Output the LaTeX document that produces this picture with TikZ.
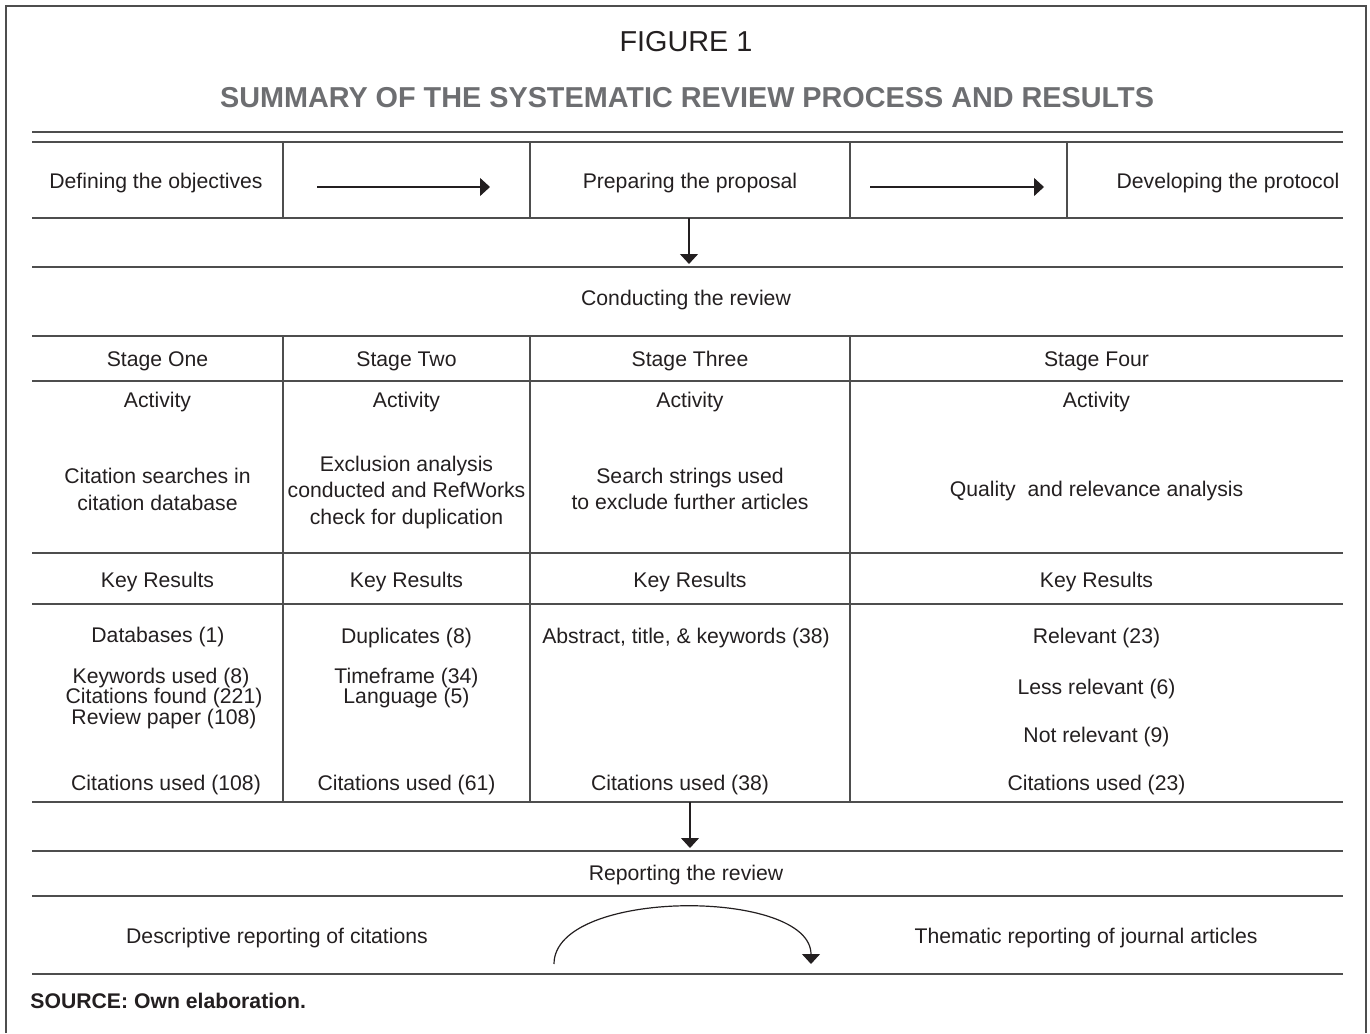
\documentclass[tikz,border=0pt]{standalone}
\usepackage{fontspec}
\setmainfont{Liberation Sans}
\usetikzlibrary{arrows.meta}
\definecolor{titlegray}{RGB}{109,110,113}
\definecolor{rulegray}{RGB}{78,78,78}
\definecolor{inkgray}{RGB}{35,31,32}

\begin{document}
\begin{tikzpicture}[x=0.5pt,y=-0.5pt,
  txt/.style={font=\fontsize{10.6pt}{12pt}\selectfont, text=inkgray, inner sep=0pt, anchor=base},
  head/.style={font=\fontsize{14.4pt}{17pt}\selectfont, inner sep=0pt, anchor=base},
  rule/.style={rulegray, line width=0.7pt},
  flow/.style={inkgray, line width=0.6pt, -{Triangle[width=9pt,length=5pt]}}]
\useasboundingbox (0,0) rectangle (1370,1033);

% frame and rules
\draw[rulegray, line width=0.8pt] (6,1033) -- (6,6) -- (1366,6) -- (1366,1033);
\foreach \y in {132,142,218,267,336,381,553,604,802,851,896,974}
  \draw[rule] (32,\y) -- (1343,\y);
\foreach \x in {283,530,850,1067}
  \draw[rule] (\x,142) -- (\x,218);
\foreach \x in {283,530,850}
  \draw[rule] (\x,336) -- (\x,802);

% headings
\node[head, text=inkgray] (fig) at (686,51) {FIGURE 1};
\node[head, text=titlegray, font=\fontsize{14.4pt}{17pt}\selectfont\bfseries] (title) at (687,107) {SUMMARY OF THE SYSTEMATIC REVIEW PROCESS AND RESULTS};

% planning row
\node[txt] (objectives) at (156,188) {Defining the objectives};
\node[txt] (proposal) at (690,188) {Preparing the proposal};
\node[txt] (protocol) at (1228,188) {Developing the protocol};
\coordinate (r1a) at (317,187);
\coordinate (r1b) at (490,187);
\coordinate (r2a) at (870,187);
\coordinate (r2b) at (1044,187);
\draw[flow] (r1a) -- (r1b);
\draw[flow] (r2a) -- (r2b);
\coordinate (d1a) at (689,218);
\coordinate (d1b) at (689,264);
\draw[flow] (d1a) -- (d1b);

% conducting the review
\node[txt] (conduct) at (686,305.5) {Conducting the review};
\node[txt] (s1) at (157.5,366.5) {Stage One};
\node[txt] (s2) at (406.5,366.5) {Stage Two};
\node[txt] (s3) at (690,366.5) {Stage Three};
\node[txt] (s4) at (1096.5,366.5) {Stage Four};
\node[txt] (act1) at (157.5,407.5) {Activity};
\node[txt] (act2) at (406.5,407.5) {Activity};
\node[txt] (act3) at (690,407.5) {Activity};
\node[txt] (act4) at (1096.5,407.5) {Activity};

\node[txt] (a11) at (157.5,483.7) {Citation searches in};
\node[txt] (a12) at (157.5,510.5) {citation database};
\node[txt] (a21) at (406.5,471) {Exclusion analysis};
\node[txt] (a22) at (406.5,497) {conducted and RefWorks};
\node[txt] (a23) at (406.5,524) {check for duplication};
\node[txt] (a31) at (690,483.5) {Search strings used};
\node[txt] (a32) at (690,509.5) {to exclude further articles};
\node[txt] (a41) at (1096.5,496.5) {Quality~ and relevance analysis};

\node[txt] (k1) at (157.5,587.5) {Key Results};
\node[txt] (k2) at (406.5,587.5) {Key Results};
\node[txt] (k3) at (690,587.5) {Key Results};
\node[txt] (k4) at (1096.5,587.5) {Key Results};

\node[txt] (r11) at (158,642.5) {Databases (1)};
\node[txt] (r12) at (161,683) {Keywords used (8)};
\node[txt] (r13) at (164,703.5) {Citations found (221)};
\node[txt] (r14) at (164,724) {Review paper (108)};
\node[txt] (r15) at (166,790.5) {Citations used (108)};
\node[txt] (r21) at (406.5,643) {Duplicates (8)};
\node[txt] (r22) at (406.5,683) {Timeframe (34)};
\node[txt] (r23) at (406.5,703.5) {Language (5)};
\node[txt] (r24) at (406.5,790.5) {Citations used (61)};
\node[txt] (r31) at (686,643) {Abstract, title, \& keywords (38)};
\node[txt] (r32) at (680,790.5) {Citations used (38)};
\node[txt] (r41) at (1096.5,643) {Relevant (23)};
\node[txt] (r42) at (1096.5,694.5) {Less relevant (6)};
\node[txt] (r43) at (1096.5,742.5) {Not relevant (9)};
\node[txt] (r44) at (1096.5,790.5) {Citations used (23)};

\coordinate (d2a) at (690,802);
\coordinate (d2b) at (690,848);
\draw[flow] (d2a) -- (d2b);

% reporting the review
\node[txt] (report) at (686,880.5) {Reporting the review};
\node[txt] (descr) at (277,943.5) {Descriptive reporting of citations};
\node[txt] (thema) at (1086,943.5) {Thematic reporting of journal articles};
\coordinate (c1a) at (554,964);
\coordinate (c1b) at (811,964);
\draw[flow] (c1a) .. controls (554,888) and (811,888) .. (c1b);

\node[txt, anchor=base west, font=\fontsize{10.6pt}{12pt}\selectfont\bfseries] (source) at (30,1008.5) {SOURCE: Own elaboration.};
\end{tikzpicture}
\end{document}
